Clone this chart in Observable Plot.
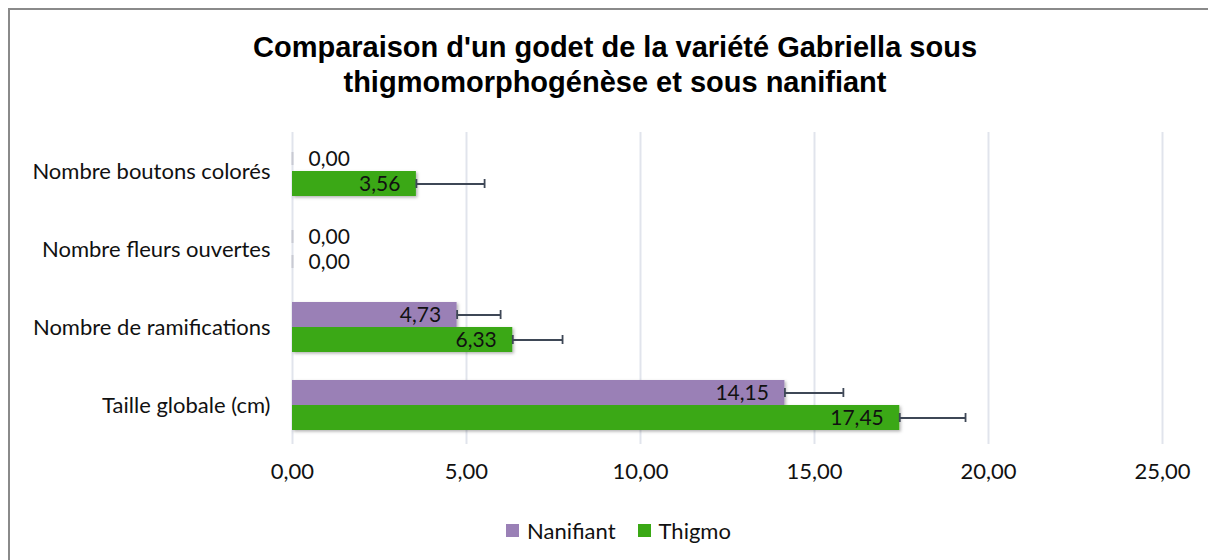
<!DOCTYPE html>
<html>
<head>
<meta charset="utf-8">
<script src="https://cdn.jsdelivr.net/npm/d3@7"></script>
<script src="https://cdn.jsdelivr.net/npm/@observablehq/plot@0.6"></script>
<style>
  html, body { margin: 0; padding: 0; background: #fff; }
  body { width: 1208px; height: 560px; overflow: hidden; position: relative; font-family: Lato, "Open Sans", sans-serif; }
  #frame { position: absolute; left: 8px; top: 8px; width: 1220px; height: 580px; border: 2px solid #8a8a8a; box-sizing: border-box; }
  #title { position: absolute; left: 0; width: 1230px; top: 30px; text-align: center; font-family: "Liberation Sans", Arial, sans-serif; font-weight: bold; font-size: 29px; line-height: 35px; color: #000; }
  #chart { position: absolute; left: 0; top: 120px; }
  #legend { position: absolute; top: 515px; left: 0; width: 1237px; text-align: center; font-size: 22px; line-height: 28px; color: #111; }
  #legend span.item { display: inline-flex; align-items: center; margin: 0 11px; }
  #legend span.sw { display: inline-block; width: 13px; height: 13px; margin-right: 8px; }
</style>
</head>
<body>
<div id="frame"></div>
<div id="title">Comparaison d'un godet de la variété Gabriella sous<br>thigmomorphogénèse et sous nanifiant</div>
<div id="chart"></div>
<div id="legend"></div>
<script>
const categories = ["Nombre boutons colorés", "Nombre fleurs ouvertes", "Nombre de ramifications", "Taille globale (cm)"];
const seriesNames = ["Nanifiant", "Thigmo"];
const seriesColors = ["#9a80b6", "#3aa815"];
const nanifiant = [0, 0, 4.73, 14.15];
const thigmo = [3.56, 0, 6.33, 17.45];
const nanifiantErr = [0, 0, 1.25, 1.68];
const thigmoErr = [1.96, 0, 1.43, 1.89];
const xTicks = [0, 5, 10, 15, 20, 25];

const fmt = d => d.toFixed(2).replace(".", ",");

const rows = [];
categories.forEach((c, i) => {
  rows.push({cat: c, series: seriesNames[0], value: nanifiant[i], err: nanifiantErr[i]});
  rows.push({cat: c, series: seriesNames[1], value: thigmo[i], err: thigmoErr[i]});
});
const withErr = rows.filter(d => d.err > 0);
const nonZero = rows.filter(d => d.value > 0);
const zero = rows.filter(d => d.value === 0);

const plot = Plot.plot({
  width: 1208,
  height: 380,
  marginLeft: 292,
  marginRight: 46,
  marginTop: 11,
  marginBottom: 55,
  style: {fontFamily: "Lato, 'Open Sans', sans-serif", fontSize: "22px", color: "#111", background: "transparent"},
  x: {domain: [0, 25], ticks: xTicks, tickFormat: fmt, tickSize: 0, tickPadding: 19, label: null},
  fy: {domain: categories, padding: 0, tickSize: 0, tickPadding: 22, label: null, axis: "left"},
  y: {domain: seriesNames, paddingInner: 0, paddingOuter: 0.51, axis: null},
  color: {domain: seriesNames, range: seriesColors},
  marks: [
    Plot.ruleX(xTicks, {x: d => d, stroke: "#e1e4ec", strokeWidth: 2}),
    Plot.barX(nonZero, {x: "value", y: "series", fy: "cat", fill: "series", className: "bars"}),
    Plot.tickX(zero, {x: "value", y: "series", fy: "cat", stroke: "#c9cad3", strokeWidth: 2, insetTop: 6, insetBottom: 6}),
    Plot.ruleY(withErr, {x1: "value", x2: d => d.value + d.err, y: "series", fy: "cat", stroke: "#3e4756", strokeWidth: 1.8}),
    Plot.tickX(withErr, {x: d => d.value + d.err, y: "series", fy: "cat", stroke: "#3e4756", strokeWidth: 1.8, insetTop: 8, insetBottom: 8}),
    Plot.tickX(withErr, {x: "value", y: "series", fy: "cat", stroke: "#3e4756", strokeWidth: 1.8, insetTop: 8, insetBottom: 8}),
    Plot.text(nonZero, {x: "value", y: "series", fy: "cat", text: d => fmt(d.value), textAnchor: "end", dx: -16, fill: "#111", fontSize: 21}),
    Plot.text(zero, {x: "value", y: "series", fy: "cat", text: d => fmt(d.value), textAnchor: "start", dx: 16, fill: "#111", fontSize: 21})
  ]
});

// subtle drop shadow like the original bars
const svg = d3.select(plot);
const defs = svg.insert("defs", ":first-child");
const f = defs.append("filter").attr("id", "shadow").attr("x", "-5%").attr("y", "-20%").attr("width", "115%").attr("height", "160%");
f.append("feDropShadow").attr("dx", 1.5).attr("dy", 1.5).attr("stdDeviation", 1.5).attr("flood-color", "#000").attr("flood-opacity", 0.3);
svg.selectAll("g.bars").attr("filter", "url(#shadow)");

document.getElementById("chart").appendChild(plot);

const legend = d3.select("#legend");
seriesNames.forEach((s, i) => {
  const item = legend.append("span").attr("class", "item");
  item.append("span").attr("class", "sw").style("background", seriesColors[i]);
  item.append("span").text(s);
});
</script>
</body>
</html>
